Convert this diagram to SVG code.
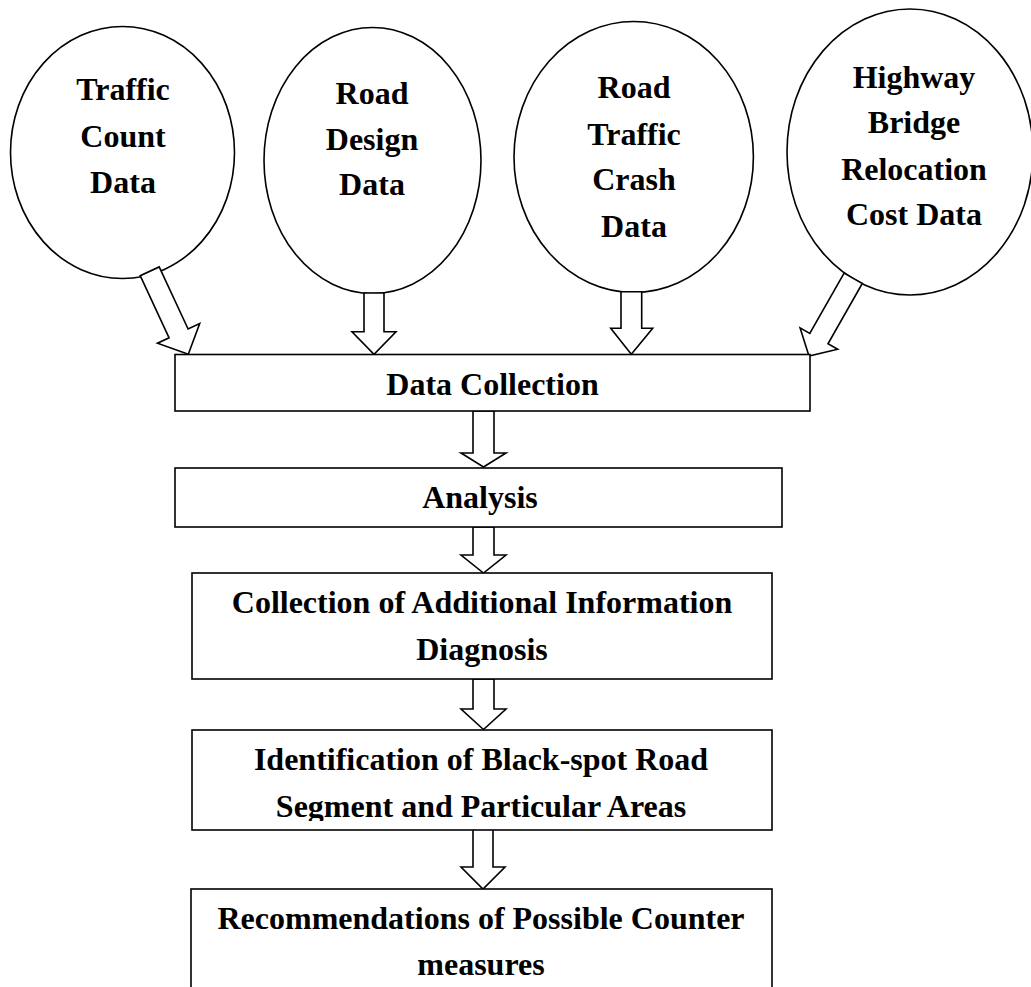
<svg xmlns="http://www.w3.org/2000/svg" width="1031" height="987" viewBox="0 0 1031 987">
<style>
.shape{fill:#fff;stroke:#000;stroke-width:1.6}
.arrow{fill:#fff;stroke:#000;stroke-width:1.6;stroke-linejoin:miter}
text{font-family:"Liberation Serif","Times New Roman",serif;font-weight:bold;font-size:32px;fill:#000;text-anchor:middle}
</style>
<defs>
<clipPath id="clipSeg"><rect x="180" y="780" width="600" height="41"/></clipPath>
</defs>
<rect width="1031" height="987" fill="#fff"/>

<g id="traffic-count">
<ellipse class="shape" cx="122.5" cy="152.5" rx="112" ry="126"/>
<text x="123" y="100">Traffic</text>
<text x="123" y="147">Count</text>
<text x="123" y="193">Data</text>
</g>
<g id="road-design">
<ellipse class="shape" cx="372.5" cy="160.5" rx="108.5" ry="133"/>
<text x="372" y="104">Road</text>
<text x="372" y="150">Design</text>
<text x="372" y="195">Data</text>
</g>
<g id="road-traffic-crash">
<ellipse class="shape" cx="633.7" cy="157" rx="119.7" ry="135.5"/>
<text x="634" y="98">Road</text>
<text x="634" y="145">Traffic</text>
<text x="634" y="190">Crash</text>
<text x="634" y="237">Data</text>
</g>
<g id="highway-bridge">
<ellipse class="shape" cx="910" cy="152" rx="123" ry="143"/>
<text x="914" y="88">Highway</text>
<text x="914" y="133">Bridge</text>
<text x="914" y="180">Relocation</text>
<text x="914" y="225">Cost Data</text>
</g>

<g id="connectors">
<polygon class="arrow" points="140.2,275.7 169.1,337.8 157.5,343.2 188.3,354.3 199.7,323.6 188.1,329 159.2,266.9"/>
<polygon class="arrow" points="364,293 364,331.7 352,331.7 374,354.3 396,331.7 384,331.7 384,293"/>
<polygon class="arrow" points="621,291.7 621,328.3 610.7,328.3 631.3,354.3 652.7,328.3 641.7,328.3 641.7,291.7"/>
<polygon class="arrow" points="844.1,273.1 809.8,333.4 800.1,327.9 809,356 837.7,349.3 828,343.8 862.3,283.5"/>
<polygon class="arrow" points="473,411 473,453 461,453 483.5,467 506,453 494,453 494,411"/>
<polygon class="arrow" points="473,527 473,555 461,555 483.5,573 506,555 494,555 494,527"/>
<polygon class="arrow" points="473,679 473,709 461,709 483.5,729.5 506,709 494,709 494,679"/>
<polygon class="arrow" points="473,829 473,867 461,867 483,889 505,867 493,867 493,829"/>
</g>

<g id="data-collection">
<rect class="shape" x="175" y="354.5" width="635" height="56.5"/>
<text x="492.5" y="395">Data Collection</text>
</g>
<g id="analysis">
<rect class="shape" x="175" y="468" width="607" height="59"/>
<text x="480" y="508">Analysis</text>
</g>
<g id="additional-info">
<rect class="shape" x="192" y="573" width="580" height="106"/>
<text x="482" y="613">Collection of Additional Information</text>
<text x="482" y="660">Diagnosis</text>
</g>
<g id="black-spot">
<rect class="shape" x="192" y="730" width="580" height="100"/>
<text x="481" y="770">Identification of Black-spot Road</text>
<text x="481" y="817" clip-path="url(#clipSeg)">Segment and Particular Areas</text>
</g>
<g id="recommendations">
<rect class="shape" x="191" y="889" width="581" height="120"/>
<text x="481" y="929">Recommendations of Possible Counter</text>
<text x="481" y="975">measures</text>
</g>
</svg>
